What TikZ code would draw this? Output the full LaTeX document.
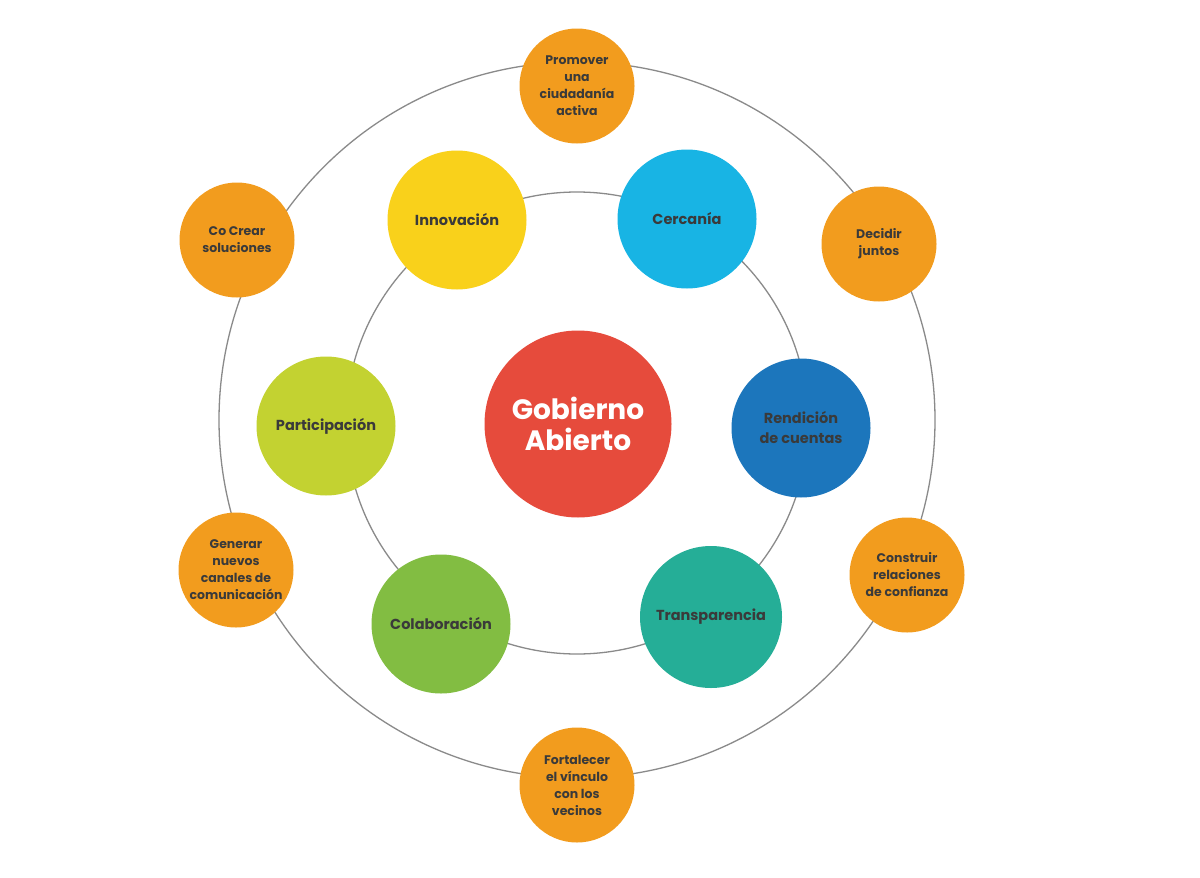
\documentclass[tikz,border=0pt]{standalone}
\usepackage{fontspec}
\setmainfont{Poppins}
\definecolor{ringgray}{HTML}{8A8A8A}
\definecolor{txt}{HTML}{3A3A3A}
\definecolor{orangeb}{HTML}{F29C1E}
\definecolor{yellowb}{HTML}{F9D11B}
\definecolor{cyanb}{HTML}{18B4E4}
\definecolor{limeb}{HTML}{C3D231}
\definecolor{blueb}{HTML}{1C76BC}
\definecolor{greenb}{HTML}{82BD42}
\definecolor{tealb}{HTML}{25AE97}
\definecolor{redb}{HTML}{E64B3C}
\begin{document}
\begin{tikzpicture}[x=1pt,y=-1pt,
  ring/.style={circle, draw=ringgray, line width=1.3pt, inner sep=0pt},
  bubble/.style={circle, inner sep=0pt, align=center, text=txt},
  outerb/.style={bubble, fill=orangeb, minimum size=115pt,
     font=\bfseries\fontsize{12.5}{17}\selectfont},
  innerb/.style={bubble, minimum size=139pt,
     font=\bfseries\fontsize{14.5}{20}\selectfont},
  centerb/.style={circle, inner sep=0pt, align=center, fill=redb, text=white,
     minimum size=187pt, font=\bfseries\fontsize{28}{31}\selectfont}]
\useasboundingbox (0,0) rectangle (1200,878);
\fill[white] (0,0) rectangle (1200,878);
% rings
\node[ring, minimum size=716pt] (outerring) at (577,420) {};
\node[ring, minimum size=462pt] (innerring) at (577,423) {};
% center
\node[centerb] (gob) at (578,424) {Gobierno\\Abierto};
% inner bubbles
\node[innerb, fill=yellowb] (innov) at (457,220) {Innovación};
\node[innerb, fill=cyanb] (cerc) at (687,219) {Cercanía};
\node[innerb, fill=limeb] (part) at (326,426) {Participación};
\node[innerb, fill=blueb] (rend) at (801,428) {Rendición\\de cuentas};
\node[innerb, fill=greenb] (colab) at (441,624) {Colaboración};
\node[innerb, fill=tealb, minimum size=142pt] (transp) at (711,617) {Transparencia};
% outer bubbles
\node[outerb] (prom) at (577,86) {Promover\\una\\ciudadanía\\activa};
\node[outerb] (cocrear) at (237,240) {Co Crear\\soluciones};
\node[outerb] (decidir) at (879,244) {Decidir\\juntos};
\node[outerb] (generar) at (236,570) {Generar\\nuevos\\canales de\\comunicación};
\node[outerb] (constr) at (907,575) {Construir\\relaciones\\de confianza};
\node[outerb] (fort) at (577,785) {Fortalecer\\el vínculo\\con los\\vecinos};
\end{tikzpicture}
\end{document}
